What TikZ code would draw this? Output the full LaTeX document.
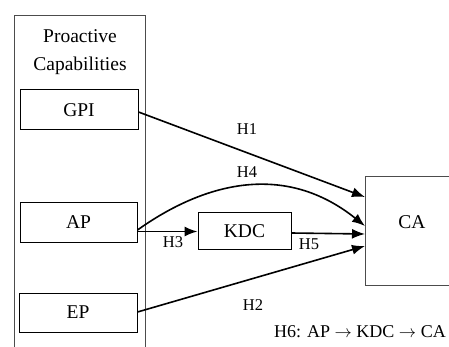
\documentclass[tikz,border=0pt]{standalone}
\usepackage{fontspec}
\setmainfont{Liberation Serif}
\usetikzlibrary{arrows.meta}
\begin{document}
\begin{tikzpicture}[x=1pt,y=-1pt,
  box/.style={draw=black,line width=1pt,fill=white,inner sep=0pt,font=\fontsize{19.5}{22}\selectfont},
  grp/.style={draw=black!70,line width=1pt},
  arr/.style={line width=1.6pt,-{Latex[length=13pt,width=10pt]}},
  lab/.style={font=\fontsize{16.5}{18}\selectfont,inner sep=0pt}]
\useasboundingbox (0,0) rectangle (449,347);
\draw[grp] (14,360) -- (14,16) -- (145,16) -- (145,360);
\node[font=\fontsize{19.5}{28}\selectfont,align=center] (title) at (80,52) {Proactive\\Capabilities};
\node[box,minimum width=118pt,minimum height=40pt] (gpi) at (79,110) {GPI};
\node[box,minimum width=117pt,minimum height=39pt] (ap) at (78.5,222.5) {AP};
\node[box,minimum width=118pt,minimum height=39pt] (ep) at (78,312.5) {EP};
\node[box,minimum width=93pt,minimum height=36pt] (kdc) at (244.5,231) {KDC};
\draw[grp,fill=white] (460,177) -- (365,177) -- (365,285) -- (460,285);
\node[font=\fontsize{19.5}{22}\selectfont] (catext) at (412,222) {CA};
\coordinate (c1) at (365,197);
\coordinate (c4) at (365,226);
\coordinate (c5) at (365,234);
\coordinate (c2) at (365,246);
\draw[arr] (gpi.east |- 0,112) -- (c1);
\draw[arr] (ap.east |- 0,230) .. controls (205,182) and (285,162) .. (c4);
\draw[arr] (ap.east |- 0,231.5) -- (kdc.west |- 0,231.5);
\draw[arr] (kdc.east |- 0,233) -- (c5);
\draw[arr] (ep.east |- 0,312) -- (c2);
\node[lab] (h1) at (247,129) {H1};
\node[lab] (h4) at (247,172) {H4};
\node[lab] (h3) at (173,242) {H3};
\node[lab] (h5) at (309,244) {H5};
\node[lab] (h2) at (253,305) {H2};
\node[font=\fontsize{18}{22}\selectfont,anchor=base west,inner sep=0pt] (h6) at (274,337) {H6: AP $\rightarrow$ KDC $\rightarrow$ CA};
\end{tikzpicture}
\end{document}
